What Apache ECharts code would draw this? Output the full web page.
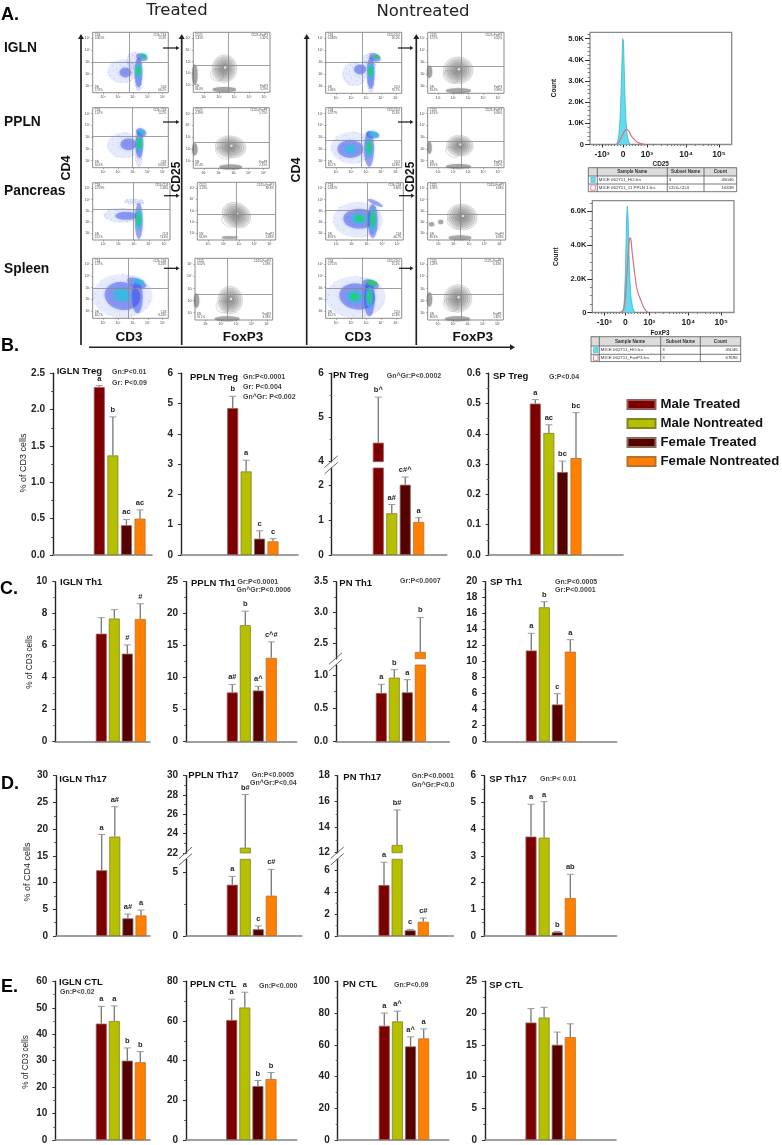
<!DOCTYPE html>
<html><head><meta charset="utf-8"><style>html,body{margin:0;padding:0;background:#fff}#c{width:782px;height:1145px}</style>
<script src="https://cdn.jsdelivr.net/npm/echarts@6/dist/echarts.min.js"></script></head><body><div id="c"></div>
<script>
// ---------- values ----------
const groups = ['Male Treated','Male Nontreated','Female Treated','Female Nontreated'];
const iglnTreg=[2.31,1.37,0.41,0.50], iglnTregErr=[2.33,1.90,0.49,0.62], iglnTregTag=['a','b','ac','ac'];
const pplnTreg=[4.85,2.76,0.54,0.45], pplnTregErr=[5.24,3.13,0.80,0.54], pplnTregTag=['b','a','c','c'];
const pnTreg=[4.43,1.20,2.02,0.95], pnTregErr=[5.46,1.45,2.24,1.07], pnTregTag=['b^','a#','c#^','a'];
const spTreg=[0.50,0.403,0.274,0.32], spTregErr=[0.513,0.43,0.31,0.47], spTregTag=['a','ac','bc','bc'];
const iglnTh1=[6.75,7.70,5.50,7.67], iglnTh1Err=[7.75,8.25,6.05,8.62], iglnTh1Tag=['','','#','#'];
const pplnTh1=[7.7,18.2,8.0,13.1], pplnTh1Err=[8.95,20.4,8.65,15.6], pplnTh1Tag=['a#','b','a^','c^#'];
const pnTh1=[0.73,0.96,0.74,2.36], pnTh1Err=[0.86,1.08,0.93,2.92], pnTh1Tag=['a','b','a','b'];
const spTh1=[11.4,16.8,4.65,11.25], spTh1Err=[13.55,17.5,6.0,12.75], spTh1Tag=['a','b','c','a'];
const iglnTh17=[12.3,18.6,3.3,3.85], iglnTh17Err=[19,24.2,4.1,4.85], iglnTh17Tag=['a','a#','a#','a'];
const pplnTh17=[4.03,22.55,0.53,3.17], pplnTh17Err=[4.69,28.05,0.79,5.24], pplnTh17Tag=['a','b#','c','c#'];
const pnTh17=[4.65,12.6,0.52,1.30], pnTh17Err=[6.73,15.33,0.60,1.64], pnTh17Tag=['a','b#','c','c#'];
const spTh17=[3.72,3.68,0.14,1.42], spTh17Err=[4.93,5.03,0.17,2.31], spTh17Tag=['a','a','b','ab'];
const iglnCtl=[44,45,30,29.4], iglnCtlErr=[50.5,50.7,34.8,33.4], iglnCtlTag=['a','a','b','b'];
const pplnCtl=[60.5,66.8,27.2,30.7], pplnCtlErr=[71,74.5,30,34], pplnCtlTag=['a','a','b','b'];
const pnCtl=[72,74.7,59,64], pnCtlErr=[80,81.2,65,70], pnCtlTag=['a','a^','a^','a'];
const spCtl=[18.5,19.3,15,16.2], spCtlErr=[20.7,20.9,17,18.3], spCtlTag=['','','',''];

const hist1Cyan=[[-7,0],[-5.5,.1],[-4,.5],[-3,1.2],[-2,2.4],[-1,4],[-.3,5],[0,5.09],[.5,4.9],[1,4],[2,2.2],[3,1.1],[4,.5],[5.5,.15],[7,0]];
const hist1Red=[[-6,0],[-3,.2],[0,.5],[2,.68],[3.7,.72],[6,.62],[8,.42],[11,.25],[14,.12],[18,.04],[22,0]];
const hist2Cyan=[[-3,0],[-2,.15],[-1,.7],[0,2.2],[.7,4],[1.4,5.7],[2,6.3],[2.8,5.6],[3.8,3.4],[4.6,1.9],[5.8,.8],[7.5,.25],[9.5,0]];
const hist2Red=[[-5,0],[-3,.08],[-1,.3],[0,.8],[1,1.6],[2,2.6],[3,3.6],[4,4.3],[4.7,4.42],[5.5,4.35],[7,3.5],[9,2.5],[11,1.6],[13,1.1],[15,.8],[18,.35],[21,.08],[23,0]];
const histTickLabels=['-10³','0','10³','10⁴','10⁵'];
const table1Rows=[['Sample Name','Subset Name','Count'],['MICE 062711_HO.fcs','3','45046'],['MICE 062711_11 PPLN 1.fcs','CD3+CD4','16338']];
const table2Rows=[['Sample Name','Subset Name','Count'],['MICE 062711_HO.fcs','3','45046'],['MICE 062711_FoxP3.fcs','3','67696']];

// density clouds: [log x, log y, w, h, rotation, tone]
const cloudT1=[[2.3,2.2,30,24,0,'p'],[3.1,3.1,16,18,0,'p'],[3.38,1.3,7,18,0,'p'],[2.5,2.1,12,10,0,'b'],[3.38,2.1,8,30,0,'b'],[3.6,3.4,12,7,-20,'b'],[3.38,2.25,6,15,0,'c'],[3.38,2.25,4,9,0,'g'],[3.72,3.5,7,4.5,-20,'c'],[3.72,3.5,5,3,-20,'g']];
const cloudT2=[[2.4,2.3,34,26,0,'p'],[3.4,1.3,7,20,0,'p'],[2.7,2.4,16,12,0,'b'],[3.44,2.4,8,28,0,'b'],[3.55,3.4,11,8,-25,'b'],[3.44,2.46,6,16,0,'c'],[3.44,2.46,4,10,0,'g'],[3.6,3.45,6,4,-20,'c']];
const cloudT3=[[2.2,2.6,36,15,0,'p'],[3.05,3.8,20,6,-5,'p'],[2.5,2.55,22,8,0,'b'],[3.33,2.1,8,36,0,'b'],[3.33,2.2,6,20,0,'c'],[3.33,2.25,4,13,0,'g']];
const cloudT4=[[2.3,2.3,60,44,0,'p'],[2.3,2.3,36,28,-10,'b'],[3.3,2.2,11,32,0,'b'],[3.25,3.4,20,9,-20,'b'],[2.27,2.38,16,12,-10,'c'],[3.4,3.5,11,5,-20,'c']];
const cloudN1=[[2.2,2,24,24,0,'p'],[3.2,3,14,18,0,'p'],[3.31,1.3,7,20,0,'p'],[2.6,2.4,12,10,0,'b'],[3.31,2.1,8,32,0,'b'],[3.6,3.4,12,8,-25,'b'],[3.31,2.24,6,15,0,'c'],[3.31,2.24,4,9,0,'g'],[3.71,3.45,6,4,-20,'g']];
const cloudN2=[[2.1,2.1,44,32,0,'p'],[1.95,2,26,18,0,'b'],[3.2,2,10,36,0,'b'],[3.44,3.2,14,7,-10,'b'],[1.95,2,11,8,0,'c'],[3.2,2.13,6,18,0,'c'],[3.2,2.13,4,11,0,'g'],[3.5,3.25,9,5,-10,'c']];
const cloudN3=[[2.4,2.2,50,36,0,'p'],[2.5,2.3,32,20,0,'b'],[3.38,2.1,10,34,0,'b'],[3.55,3.7,17,4,-25,'b'],[2.49,2.3,15,10,0,'c'],[3.38,2.17,6,22,0,'c'],[2.49,2.3,8,6,0,'g'],[3.38,2.2,4,15,0,'g']];
const cloudN4=[[2.3,2.2,60,42,0,'p'],[2.4,2.25,36,26,-10,'b'],[3.22,2.1,11,36,0,'b'],[3.3,3.3,17,9,-15,'b'],[2.22,2.24,15,12,0,'c'],[3.22,2.2,7,20,0,'c'],[2.22,2.24,8,7,0,'g'],[3.22,2.2,4,12,0,'g'],[3.4,3.4,11,5,-12,'g']];
// scattered single events around each pale cloud, as fractions of its half-size
const speckle=[[-.9,.1],[-.7,.5],[-.55,-.6],[-.4,.2],[-.3,.75],[-.2,-.3],[-.1,-.85],[.05,.4],[.15,.9],[.25,-.5],[.35,.1],[.45,.65],[.55,-.75],[.65,-.1],[.75,.45],[.9,-.25],[-.8,-.35],[-.62,.05],[-.15,.55],[.1,-.15],[.3,-.9],[.6,.3],[-.45,-.85],[-.95,-.1],[.8,-.55],[.02,.98],[-.33,-.12],[.48,-.3],[-.72,.72],[.7,.72]];
// contour shapes: [log x, log y, w, h, rotation]
const contourT1=[[2.36,2.41,25,28,0]], ridgeT1=[[2.36,.63,23,5,0],[.4,1.9,5,20,0]];
const contourT2=[[2.8,2.2,31,22,-8]], ridgeT2=[[2.8,.5,22,5,0],[.4,2,5,12,0]];
const contourT3=[[2.84,2.6,30,24,-30]], ridgeT3=[[2.4,.62,15,3,0]];
const contourT4=[[2.6,2.04,25,28,0]], ridgeT4=[[2.4,.5,24,5,0],[.4,2,5,14,0]];
const contourN1=[[2.33,2.32,30,27,0]], ridgeN1=[[2.35,.62,24,5,0],[.42,2.2,5,12,0]];
const contourN2=[[2.44,2.27,27,21,-5]], ridgeN2=[[2.35,.5,24,5,0],[.42,2.1,4,12,0]];
const contourN3=[[2.55,2.45,30,26,-10]], ridgeN3=[[2.4,.6,22,5,0],[.55,1.8,5,4,0],[1.15,2,5,4,0]];
const contourN4=[[2.33,2.18,28,28,0]], ridgeN4=[[2.3,.5,24,5,0],[.42,2.1,5,14,0]];
const contourRings=[1,.86,.72,.58,.44,.3,.17];
const corners={
 T1:['CD4\n0.061%','CD3+CD4\n15.3%','DN\n17.8%','CD3\n66.2%'],T2:['CD4\n1.07%','CD3+CD4\n12.2%','DN\n24.4%','CD3\n63.8%'],
 T3:['CD4\n0.759%','CD3+CD4\n5.38%','DN\n23.2%','CD3\n74.6%'],T4:['CD4\n5.37%','CD3+CD4\n6.23%','DN\n60.2%','CD3\n8.23%'],
 N1:['CD4\n0.038%','CD3+CD4\n16.0%','DN\n5.08%','CD3\n78.7%'],N2:['CD4\n0.377%','CD3+CD4\n15.6%','DN\n30.2%','CD3\n53.8%'],
 N3:['CD4\n0.632%','CD3+CD4\n3.80%','DN\n49.8%','CD3\n46.7%'],N4:['CD4\n0.751%','CD3+CD4\n15.2%','DN\n60.2%','CD3\n22.9%'],
 FT1:['CD25\n5.41%','CD25+FoxP3\n5.32%','DN\n86.0%','FoxP3\n3.29%'],FT2:['CD25\n4.39%','CD25+FoxP3\n5.75%','DN\n87.4%','FoxP3\n2.51%'],
 FT3:['CD25\n3.23%','CD25+FoxP3\n88.8%','DN\n65.8%','FoxP3\n3.83%'],FT4:['CD25\n3.02%','CD25+FoxP3\n5.58%','DN\n91.1%','FoxP3\n4.38%'],
 FN1:['CD25\n3.57%','CD25+FoxP3\n6.82%','DN\n83.4%','FoxP3\n3.99%'],FN2:['CD25\n4.19%','CD25+FoxP3\n6.86%','DN\n83.9%','FoxP3\n2.82%'],
 FN3:['CD25\n3.39%','CD25+FoxP3\n3.84%','DN\n89.3%','FoxP3\n3.86%'],FN4:['CD25\n5.28%','CD25+FoxP3\n6.53%','DN\n86.8%','FoxP3\n1.82%']
};

// ---------- layout and helpers ----------
const FONT='"Liberation Sans",Arial,sans-serif';
const barColors=['#7d0000','#b6bf00','#560000','#ff8000'];
const barEdges=['#9a5a5a','#7f8428','#8a6a5a','#b8702a'];
const tones={p:'rgba(125,145,240,.2)',b:'rgba(45,70,230,.5)',c:'rgba(45,190,225,.85)',g:'rgba(40,205,110,.95)'};
const option={animation:false,backgroundColor:'#fff',textStyle:{fontFamily:FONT},grid:[],xAxis:[],yAxis:[],series:[],
 legend:{data:groups,orient:'vertical',left:626.5,top:397.5,padding:0,itemWidth:28,itemHeight:9,itemGap:5,icon:'rect',selectedMode:false,
  textStyle:{fontFamily:FONT,fontWeight:'bold',fontSize:13.2,color:'#111',lineHeight:14}},
 graphic:{elements:[]}};
const G=option.graphic.elements;
function text(x,y,s,font,o={}){G.push({type:'text',x,y,rotation:o.rot||0,z:10,silent:true,style:{text:s,font:font+' '+FONT,fill:o.fill||'#111',align:o.align||'left',verticalAlign:o.va||'middle',lineHeight:o.lh}});}
function seg(x1,y1,x2,y2,stroke,lw){G.push({type:'line',z:10,silent:true,shape:{x1,y1,x2,y2},style:{stroke,lineWidth:lw}});}
function arrow(x1,y1,x2,y2,lw,hs){seg(x1,y1,x2,y2,'#222',lw);const a=Math.atan2(y2-y1,x2-x1),c=Math.cos(a),s=Math.sin(a);
 G.push({type:'polygon',z:10,silent:true,shape:{points:[[x2+c*hs,y2+s*hs],[x2-s*hs*.6,y2+c*hs*.6],[x2+s*hs*.6,y2-c*hs*.6]]},style:{fill:'#222'}});}
function addGrid(box,xa,ya){option.grid.push({left:box[0],top:box[1],width:box[2]-box[0],height:box[3]-box[1],show:!!box[4],borderColor:'#8a8a8a',borderWidth:box[4]||0,containLabel:false});
 const g=option.grid.length-1;xa.gridIndex=g;ya.gridIndex=g;option.xAxis.push(xa);option.yAxis.push(ya);return {g,x:option.xAxis.length-1,y:option.yAxis.length-1};}
function addExtraY(g,ya){ya.gridIndex=g;option.yAxis.push(ya);}
function addExtraX(g,xa){xa.gridIndex=g;option.xAxis.push(xa);}

function barPanel(p){
 const c0=p.c[0],step=(p.c[3]-p.c[0])/3;
 const xmin=(p.x-c0)/step,xmax=(p.r-c0)/step;
 p.segs.forEach((s,k)=>{
  const last=k===p.segs.length-1;
  const c=addGrid([p.x,s.top,p.r,s.bottom],
   {type:'value',min:xmin,max:xmax,show:last,axisLine:{show:last,onZero:false,lineStyle:{color:'#808080',width:1.6}},axisTick:{show:false},axisLabel:{show:false},splitLine:{show:false}},
   {type:'value',min:s.min,max:s.max,axisLine:{show:true,onZero:false,lineStyle:{color:'#222',width:1.4}},
    axisTick:{show:true,length:3,customValues:s.major,lineStyle:{color:'#333',width:1}},
    axisLabel:{show:true,customValues:s.major,margin:8,showMinLabel:true,showMaxLabel:true,fontFamily:FONT,fontWeight:'bold',fontSize:p.fs||10,color:'#222',formatter:v=>v.toFixed(p.dec||0)},splitLine:{show:false}});
  if(s.minor&&s.minor.length) addExtraY(c.g,{type:'value',position:'left',min:s.min,max:s.max,axisLine:{show:false,onZero:false},axisTick:{show:true,length:2,customValues:s.minor,lineStyle:{color:'#666',width:1}},axisLabel:{show:false},splitLine:{show:false}});
  groups.forEach((name,i)=>{
   if(p.vals[i]<s.min) return;
   option.series.push({type:'bar',name,xAxisIndex:c.x,yAxisIndex:c.y,barWidth:p.bw||11,barGap:'-100%',silent:true,clip:true,
    itemStyle:{color:barColors[i],borderColor:barEdges[i],borderWidth:.8},data:[[i,p.vals[i]]]});
  });
  const items=[];
  groups.forEach((n,i)=>{if(p.errs[i]>=s.min&&p.errs[i]<=s.max) items.push([i,p.vals[i],p.errs[i]]);});
  option.series.push({type:'custom',name:'error bars',xAxisIndex:c.x,yAxisIndex:c.y,silent:true,clip:false,z:5,encode:{x:0,y:2},data:items,
   renderItem:(params,api)=>{
    const i=api.value(0),a=api.coord([i,api.value(1)]),b=api.coord([i,api.value(2)]);
    return {type:'group',children:[
     {type:'line',shape:{x1:a[0],y1:a[1],x2:a[0],y2:b[1]},style:{stroke:'#777',lineWidth:1.3}},
     {type:'line',shape:{x1:a[0]-3.5,y1:b[1],x2:a[0]+3.5,y2:b[1]},style:{stroke:'#999',lineWidth:1}},
     {type:'text',style:{text:p.tags[i],x:a[0],y:b[1]-3,align:'center',verticalAlign:'bottom',fill:'#222',font:'bold 7.5px '+FONT}}]};
   }});
 });
 if(p.segs.length>1){
  const mid=(p.segs[0].bottom+p.segs[1].top)/2, xa=p.x;
  seg(xa-7,mid+2.5,xa+6,mid-9,'#666',1);seg(xa-7,mid+9,xa+6,mid-2.5,'#666',1);
 }
 text(p.tx,p.ty,p.title,'bold 9.5px');
 (p.notes||[]).forEach(n=>text(n[0],n[1],n[2],'bold 7px',{fill:'#444'}));
}

const rowB={top:373.3,bottom:555},rowC={top:581.7,bottom:741.7},rowD={top:775.7,bottom:936},rowE={top:981.3,bottom:1141.7};
const S=(r,min,max,major,minor)=>[{top:r.top,bottom:r.bottom,min,max,major,minor}];
const panels=[
 {title:'IGLN Treg',vals:iglnTreg,errs:iglnTregErr,tags:iglnTregTag,x:53,r:152,c:[99.3,113,126.7,140],dec:1,tx:56.7,ty:371,
  notes:[[112,372,'Gn:P<0.01'],[112,382.7,'Gr: P<0.09']],segs:S(rowB,0,2.5,[0,.5,1,1.5,2,2.5],[.25,.75,1.25,1.75,2.25])},
 {title:'PPLN Treg',vals:pplnTreg,errs:pplnTregErr,tags:pplnTregTag,x:181,r:298,c:[232.7,246,259.7,273],tx:190,ty:377,
  notes:[[243,377,'Gn:P<0.0001'],[243,387,'Gr: P<0.004'],[243,397,'Gn^Gr: P<0.002']],segs:S(rowB,0,6,[0,1,2,3,4,5,6],[])},
 {title:'PN Treg',vals:pnTreg,errs:pnTregErr,tags:pnTregTag,x:331.7,r:446.7,c:[378.3,392,405,418.7],tx:333,ty:375.7,
  notes:[[386.7,376,'Gn^Gr:P<0.0002']],segs:[{top:373.3,bottom:461.7,min:4,max:6,major:[4,5,6],minor:[4.5,5.5]},{top:468,bottom:555,min:0,max:2.5,major:[0,1,2],minor:[.5,1.5]}]},
 {title:'SP Treg',vals:spTreg,errs:spTregErr,tags:spTregTag,x:488.7,r:623,c:[535.3,549,562.3,576],dec:1,tx:493,ty:376.7,
  notes:[[549,377,'G:P<0.04']],segs:S(rowB,0,.6,[0,.1,.2,.3,.4,.5,.6],[.05,.15,.25,.35,.45,.55])},

 {title:'IGLN Th1',vals:iglnTh1,errs:iglnTh1Err,tags:iglnTh1Tag,x:55.3,r:150,c:[101.3,114.3,127.3,140.3],tx:60,ty:582.7,segs:S(rowC,0,10,[0,2,4,6,8,10],[1,3,5,7,9])},
 {title:'PPLN Th1',vals:pplnTh1,errs:pplnTh1Err,tags:pplnTh1Tag,x:186,r:296.7,c:[232.3,245.3,258.3,271.3],tx:191,ty:583,
  notes:[[237.5,582,'Gr:P<0.0001'],[236.5,590.3,'Gn^Gr:P<0.0006']],segs:S(rowC,0,25,[0,5,10,15,20,25],[2.5,7.5,12.5,17.5,22.5])},
 {title:'PN Th1',vals:pnTh1,errs:pnTh1Err,tags:pnTh1Tag,x:336,r:449.3,c:[381.3,394.2,407,420.3],dec:1,tx:339.3,ty:583,
  notes:[[400,581,'Gr:P<0.0007']],segs:[{top:581.7,bottom:658.7,min:2.25,max:3.5,major:[2.5,3,3.5],minor:[2.75,3.25]},{top:665,bottom:741.7,min:0,max:1.15,major:[0,.5,1],minor:[.25,.75]}]},
 {title:'SP Th1',vals:spTh1,errs:spTh1Err,tags:spTh1Tag,x:485.3,r:616.7,c:[531.3,544.3,557.7,570.3],tx:490,ty:582.7,
  notes:[[555,582,'Gn:P<0.0005'],[555,590,'Gr:P<0.0001']],segs:S(rowC,0,20,[0,2,4,6,8,10,12,14,16,18,20],[1,3,5,7,9,11,13,15,17,19])},

 {title:'IGLN Th17',vals:iglnTh17,errs:iglnTh17Err,tags:iglnTh17Tag,x:56,r:150,c:[101.7,114.7,127.7,141],tx:59.3,ty:779.3,segs:S(rowD,0,30,[0,5,10,15,20,25,30],[2.5,7.5,12.5,17.5,22.5,27.5])},
 {title:'PPLN Th17',vals:pplnTh17,errs:pplnTh17Err,tags:pplnTh17Tag,x:186,r:301.7,c:[232.3,245.3,258.3,271.3],tx:188.3,ty:775.3,
  notes:[[251.7,775.5,'Gn:P<0.0005'],[250,783,'Gn^Gr:P<0.04']],segs:[{top:775.7,bottom:853,min:22,max:30,major:[22,24,26,28,30],minor:[23,25,27,29]},{top:859.3,bottom:936,min:0,max:6.03,major:[0,5],minor:[2.5]}]},
 {title:'PN Th17',vals:pnTh17,errs:pnTh17Err,tags:pnTh17Tag,x:337.7,r:453.3,c:[384,397,410,423.3],tx:343.3,ty:777,
  notes:[[411.7,776,'Gn:P<0.0001'],[411.7,784.7,'Gn^Gr:P<0.0']],segs:[{top:775.7,bottom:852.7,min:12,max:18,major:[12,14,16,18],minor:[13,15,17]},{top:859.3,bottom:936,min:0,max:7,major:[0,2,4,6],minor:[1,3,5]}]},
 {title:'SP Th17',vals:spTh17,errs:spTh17Err,tags:spTh17Tag,x:484,r:616.7,c:[531,544,557.3,570.3],tx:489.3,ty:779,
  notes:[[540,779,'Gn:P< 0.01']],segs:S(rowD,0,6,[0,1,2,3,4,5,6],[.5,1.5,2.5,3.5,4.5,5.5])},

 {title:'IGLN CTL',vals:iglnCtl,errs:iglnCtlErr,tags:iglnCtlTag,x:55.3,r:150,c:[101.3,114.3,127.3,140.3],tx:59,ty:982.3,
  notes:[[60,992.3,'Gn:P<0.02']],segs:S(rowE,0,60,[0,10,20,30,40,50,60],[5,15,25,35,45,55])},
 {title:'PPLN CTL',vals:pplnCtl,errs:pplnCtlErr,tags:pplnCtlTag,x:186,r:296.7,c:[231.7,244.7,257.7,271],tx:190,ty:984.3,
  notes:[[259,986,'Gn:P<0.000']],segs:S(rowE,0,80,[0,20,40,60,80],[10,30,50,70])},
 {title:'PN CTL',vals:pnCtl,errs:pnCtlErr,tags:pnCtlTag,x:337.7,r:448.7,c:[384.3,397.3,410.7,423.7],tx:342.7,ty:984.3,
  notes:[[394,985,'Gn:P<0.09']],segs:S(rowE,0,100,[0,20,40,60,80,100],[10,30,50,70,90])},
 {title:'SP CTL',vals:spCtl,errs:spCtlErr,tags:spCtlTag,x:485,r:616,c:[531,544,557,570.3],tx:489.3,ty:985,segs:S(rowE,0,25,[0,5,10,15,20,25],[2.5,7.5,12.5,17.5,22.5])}
];
panels.forEach(barPanel);
text(24,463,'% of CD3 cells','9px',{rot:Math.PI/2,align:'center',fill:'#222'});
text(30,662,'% of CD3 cells','8.2px',{rot:Math.PI/2,align:'center',fill:'#222'});
text(28,872,'% of CD4 cells','9px',{rot:Math.PI/2,align:'center',fill:'#222'});
text(26,1062,'% of CD3 cells','8.2px',{rot:Math.PI/2,align:'center',fill:'#222'});

// ---------- panel A: flow plots ----------
const sup=['','10¹','10²','10³','10⁴','10⁵'];
function flowPlot(box,q,corner,blobs,contours,ridges){
 const c=addGrid([box[0],box[1],box[2],box[3],1],
  {type:'value',min:.3,max:5.38,axisLine:{show:false,onZero:false},axisTick:{show:true,length:1.5,customValues:[1,2,3,4,5],lineStyle:{color:'#777',width:.6}},
   axisLabel:{show:true,customValues:[1,2,3,4,5],margin:2.5,fontSize:3.5,color:'#444',formatter:v=>sup[Math.round(v)]},splitLine:{show:false}},
  {type:'value',min:.4,max:5.5,axisLine:{show:false,onZero:false},axisTick:{show:true,length:1.5,customValues:[1,2,3,4,5],lineStyle:{color:'#777',width:.6}},
   axisLabel:{show:true,customValues:[1,2,3,4,5],margin:2.5,fontSize:3.5,color:'#444',formatter:v=>sup[Math.round(v)]},splitLine:{show:false}});
 const data=[];
 if(blobs) blobs.forEach(b=>{
  data.push({value:b,itemStyle:{color:tones[b[5]],shadowBlur:b[5]==='g'?1:3,shadowColor:tones[b[5]]}});
  if(b[5]==='p') speckle.forEach(o=>data.push({value:[b[0]+o[0]*b[2]/30,b[1]+o[1]*b[3]/23.6,.9,.9,0],itemStyle:{color:'rgba(60,80,225,.6)'}}));
 });
 if(ridges) ridges.forEach(b=>data.push({value:b,itemStyle:{color:'rgba(95,95,95,.55)',borderColor:'rgba(110,110,110,.6)',borderWidth:.5,shadowBlur:2,shadowColor:'rgba(95,95,95,.5)'}}));
 if(contours) contours.forEach(k=>{
   data.push({value:[k[0]-.5,k[1]-.55,k[2]*.55,k[3]*.42,-30],itemStyle:{color:'rgba(90,90,90,.06)',borderColor:'rgba(120,120,120,.5)',borderWidth:.5}});
   contourRings.forEach(f=>data.push({value:[k[0],k[1],k[2]*f,k[3]*f,k[4]],itemStyle:{color:'rgba(90,90,90,.17)',borderColor:'rgba(110,110,110,.45)',borderWidth:.5}}));
   data.push({value:[k[0]+.05,k[1]+.1,2.5,2.5,0],itemStyle:{color:'#f6f6f6'}});});
 option.series.push({type:'scatter',name:'cells',xAxisIndex:c.x,yAxisIndex:c.y,silent:true,clip:true,symbol:'circle',
  symbolSize:v=>[v[2],v[3]],symbolRotate:v=>v[4],data,
  markLine:{silent:true,symbol:'none',animation:false,label:{show:false},lineStyle:{color:'#888',width:.8,type:'solid'},data:[{xAxis:q[0]},{yAxis:q[1]}]}});
 const [l,t,r,b]=box;
 text(l+2,t+1,corner[0],'2.8px',{va:'top',lh:3.2,fill:'#444'});
 text(r-2,t+1,corner[1],'2.8px',{va:'top',align:'right',lh:3.2,fill:'#444'});
 text(l+2,b-1,corner[2],'2.8px',{va:'bottom',lh:3.2,fill:'#444'});
 text(r-2,b-1,corner[3],'2.8px',{va:'bottom',align:'right',lh:3.2,fill:'#444'});
}
flowPlot([92.7,32.3,168.3,92.7],[2.76,3],corners.T1,cloudT1);
flowPlot([92.7,107.7,168.3,167.7],[2.98,3.05],corners.T2,cloudT2);
flowPlot([92.7,182.7,170,240],[2.98,3.1],corners.T3,cloudT3);
flowPlot([92.7,258.3,168.3,318.3],[2.7,2.97],corners.T4,cloudT4);
flowPlot([325.7,32.3,401.7,93.3],[2.76,3],corners.N1,cloudN1);
flowPlot([325.7,107.7,401.7,167.7],[2.7,2.75],corners.N2,cloudN2);
flowPlot([325.7,182.7,403.3,240],[3,3.04],corners.N3,cloudN3);
flowPlot([325.7,258.3,401.7,318.3],[2.71,2.97],corners.N4,cloudN4);
flowPlot([193.3,32.3,270,92.3],[2.63,2.7],corners.FT1,null,contourT1,ridgeT1);
flowPlot([193.3,107.7,269.3,168.3],[2.63,2.63],corners.FT2,null,contourT2,ridgeT2);
flowPlot([197.3,182.3,275.7,240],[2.8,2.66],corners.FT3,null,contourT3,ridgeT3);
flowPlot([195,258.3,272.7,320],[2.38,2.55],corners.FT4,null,contourT4,ridgeT4);
flowPlot([427.7,32.3,504,93.3],[2.55,2.69],corners.FN1,null,contourN1,ridgeN1);
flowPlot([427.7,107.7,504,167.7],[2.55,2.63],corners.FN2,null,contourN2,ridgeN2);
flowPlot([427.7,182.7,505.7,240],[2.44,2.66],corners.FN3,null,contourN3,ridgeN3);
flowPlot([427.7,258.3,503.3,320],[2.55,2.55],corners.FN4,null,contourN4,ridgeN4);

// ---------- histograms ----------
const histTickPos=[-21,0,24,63,96], histMinorPos=[-30,-27,-24,-18,-15,-12,-9,-6,-3,3,6,9,12,15,18,21,30,38,44,48,51,54,57,60,72,80,85,88,91,94];
function histo(box,ymax,major,minor,cyan,red,xmax){
 const c=addGrid([box[0],box[1],box[2],box[3],1.3],
  {type:'value',min:-33,max:xmax,axisLine:{show:false,onZero:false},axisTick:{show:true,length:3,customValues:histTickPos,lineStyle:{color:'#333',width:1}},
   axisLabel:{show:true,customValues:histTickPos,margin:6,fontSize:8.5,fontWeight:'bold',color:'#222',fontFamily:FONT,formatter:v=>histTickLabels[histTickPos.indexOf(v)]},splitLine:{show:false}},
  {type:'value',min:0,max:ymax,axisLine:{show:false,onZero:false},axisTick:{show:true,length:5,customValues:major,lineStyle:{color:'#333',width:1}},
   axisLabel:{show:true,customValues:major,margin:6,fontSize:7.5,fontWeight:'bold',color:'#222',fontFamily:FONT,formatter:v=>v===0?'0':v.toFixed(1)+'K'},splitLine:{show:false}});
 addExtraY(c.g,{type:'value',position:'left',min:0,max:ymax,axisLine:{show:false,onZero:false},axisTick:{show:true,length:2.5,customValues:minor,lineStyle:{color:'#666',width:.8}},axisLabel:{show:false},splitLine:{show:false}});
 addExtraX(c.g,{type:'value',position:'bottom',min:-33,max:xmax,axisLine:{show:false,onZero:false},axisTick:{show:true,length:1.5,customValues:histMinorPos,lineStyle:{color:'#666',width:.8}},axisLabel:{show:false},splitLine:{show:false}});
 option.series.push({type:'line',name:'control',xAxisIndex:c.x,yAxisIndex:c.y,silent:true,showSymbol:false,data:cyan,lineStyle:{color:'#39b7cf',width:.8},areaStyle:{color:'#62dbf0',opacity:1},z:3});
 option.series.push({type:'line',name:'sample',xAxisIndex:c.x,yAxisIndex:c.y,silent:true,showSymbol:false,smooth:.2,data:red,lineStyle:{color:'#d9707f',width:1.2},z:4});
}
histo([590,32.3,731.7,144.5],5.3,[0,1,2,3,4,5],[.2,.4,.6,.8,1.2,1.4,1.6,1.8,2.2,2.4,2.6,2.8,3.2,3.4,3.6,3.8,4.2,4.4,4.6,4.8,5.2],hist1Cyan,hist1Red,108.7);
histo([592.3,200.7,734,312.5],6.63,[0,2,4,6],[.5,1,1.5,2.5,3,3.5,4.5,5,5.5,6.5],hist2Cyan,hist2Red,108.7);

function table(xs,ys,rows){
 G.push({type:'rect',z:9,silent:true,shape:{x:xs[0],y:ys[0],width:xs[4]-xs[0],height:ys[1]-ys[0]},style:{fill:'#dcdcdc'}});
 ys.forEach(y=>seg(xs[0],y,xs[4],y,'#555',.8));xs.forEach(x=>seg(x,ys[0],x,ys[3],'#555',.8));
 rows.forEach((r,i)=>{const y=(ys[i]+ys[i+1])/2;
  if(i===0){text((xs[1]+xs[2])/2,y,r[0],'bold 4.6px',{align:'center',fill:'#333'});text((xs[2]+xs[3])/2,y,r[1],'bold 4.6px',{align:'center',fill:'#333'});text((xs[3]+xs[4])/2,y,r[2],'bold 4.6px',{align:'center',fill:'#333'});}
  else{text(xs[1]+1.5,y,r[0],'4.4px',{fill:'#333'});text(xs[2]+1.5,y,r[1],'4.4px',{fill:'#333'});text(xs[4]-3,y,r[2],'4.4px',{align:'right',fill:'#333'});
   G.push({type:'rect',z:10,silent:true,shape:{x:xs[0]+2.5,y:y-2.8,width:4.5,height:5.2},style:i===1?{fill:'#62dbf0',stroke:'#39b7cf',lineWidth:.6}:{fill:'#fff',stroke:'#d9707f',lineWidth:.8}});}
 });
}
table([588.3,597.3,667.3,704,736.7],[167.7,176,184,191.7],table1Rows);
table([591,599.3,660.7,700.3,740.7],[336.7,346,354.3,361.6],table2Rows);
text(660.7,164.3,'CD25','bold 6.4px',{align:'center',fill:'#222'});
text(660,333.3,'FoxP3','bold 6.4px',{align:'center',fill:'#222'});
text(554.7,88,'Count','bold 6.4px',{rot:Math.PI/2,align:'center',fill:'#222'});
text(556.7,256.7,'Count','bold 6.4px',{rot:Math.PI/2,align:'center',fill:'#222'});

// ---------- section labels, arrows ----------
text(1,15,'A.','bold 18px',{fill:'#000'});
text(1,346,'B.','bold 18px',{fill:'#000'});
text(0,589,'C.','bold 18px',{fill:'#000'});
text(1,784,'D.','bold 18px',{fill:'#000'});
text(1,987,'E.','bold 18px',{fill:'#000'});
G.push({type:'text',x:177,y:10.5,z:10,silent:true,style:{text:'Treated',font:'16.5px "DejaVu Sans"',fill:'#222',align:'center',verticalAlign:'middle'}});
G.push({type:'text',x:423,y:11.5,z:10,silent:true,style:{text:'Nontreated',font:'16.5px "DejaVu Sans"',fill:'#222',align:'center',verticalAlign:'middle'}});
[['IGLN',48],['PPLN',122.5],['Pancreas',191],['Spleen',269]].forEach(r=>text(4,r[1],r[0],'bold 13.8px'));
text(66.7,168,'CD4','bold 12.5px',{rot:Math.PI/2,align:'center'});
text(176.7,177,'CD25','bold 12px',{rot:Math.PI/2,align:'center'});
text(296.7,170,'CD4','bold 12.5px',{rot:Math.PI/2,align:'center'});
text(411,177,'CD25','bold 12px',{rot:Math.PI/2,align:'center'});
[['CD3',129],['FoxP3',243],['CD3',358],['FoxP3',472.7]].forEach(r=>text(r[1],337,r[0],'bold 13.5px',{align:'center'}));
[81,181.7,306.7,416.3].forEach(x=>arrow(x,345,x,39,1.7,5));
arrow(89,347.3,510,347.3,1.4,5);
[[163,176,48],[163,176,122],[164,176,195.7],[164,176,268.3],[398,410,48],[398,410,122],[399,411,195.7],[399,410,268.3]].forEach(a=>arrow(a[0],a[2],a[1],a[2],1.3,3.5));

echarts.init(document.getElementById('c'),null,{renderer:'canvas',width:782,height:1145}).setOption(option);
</script></body></html>
